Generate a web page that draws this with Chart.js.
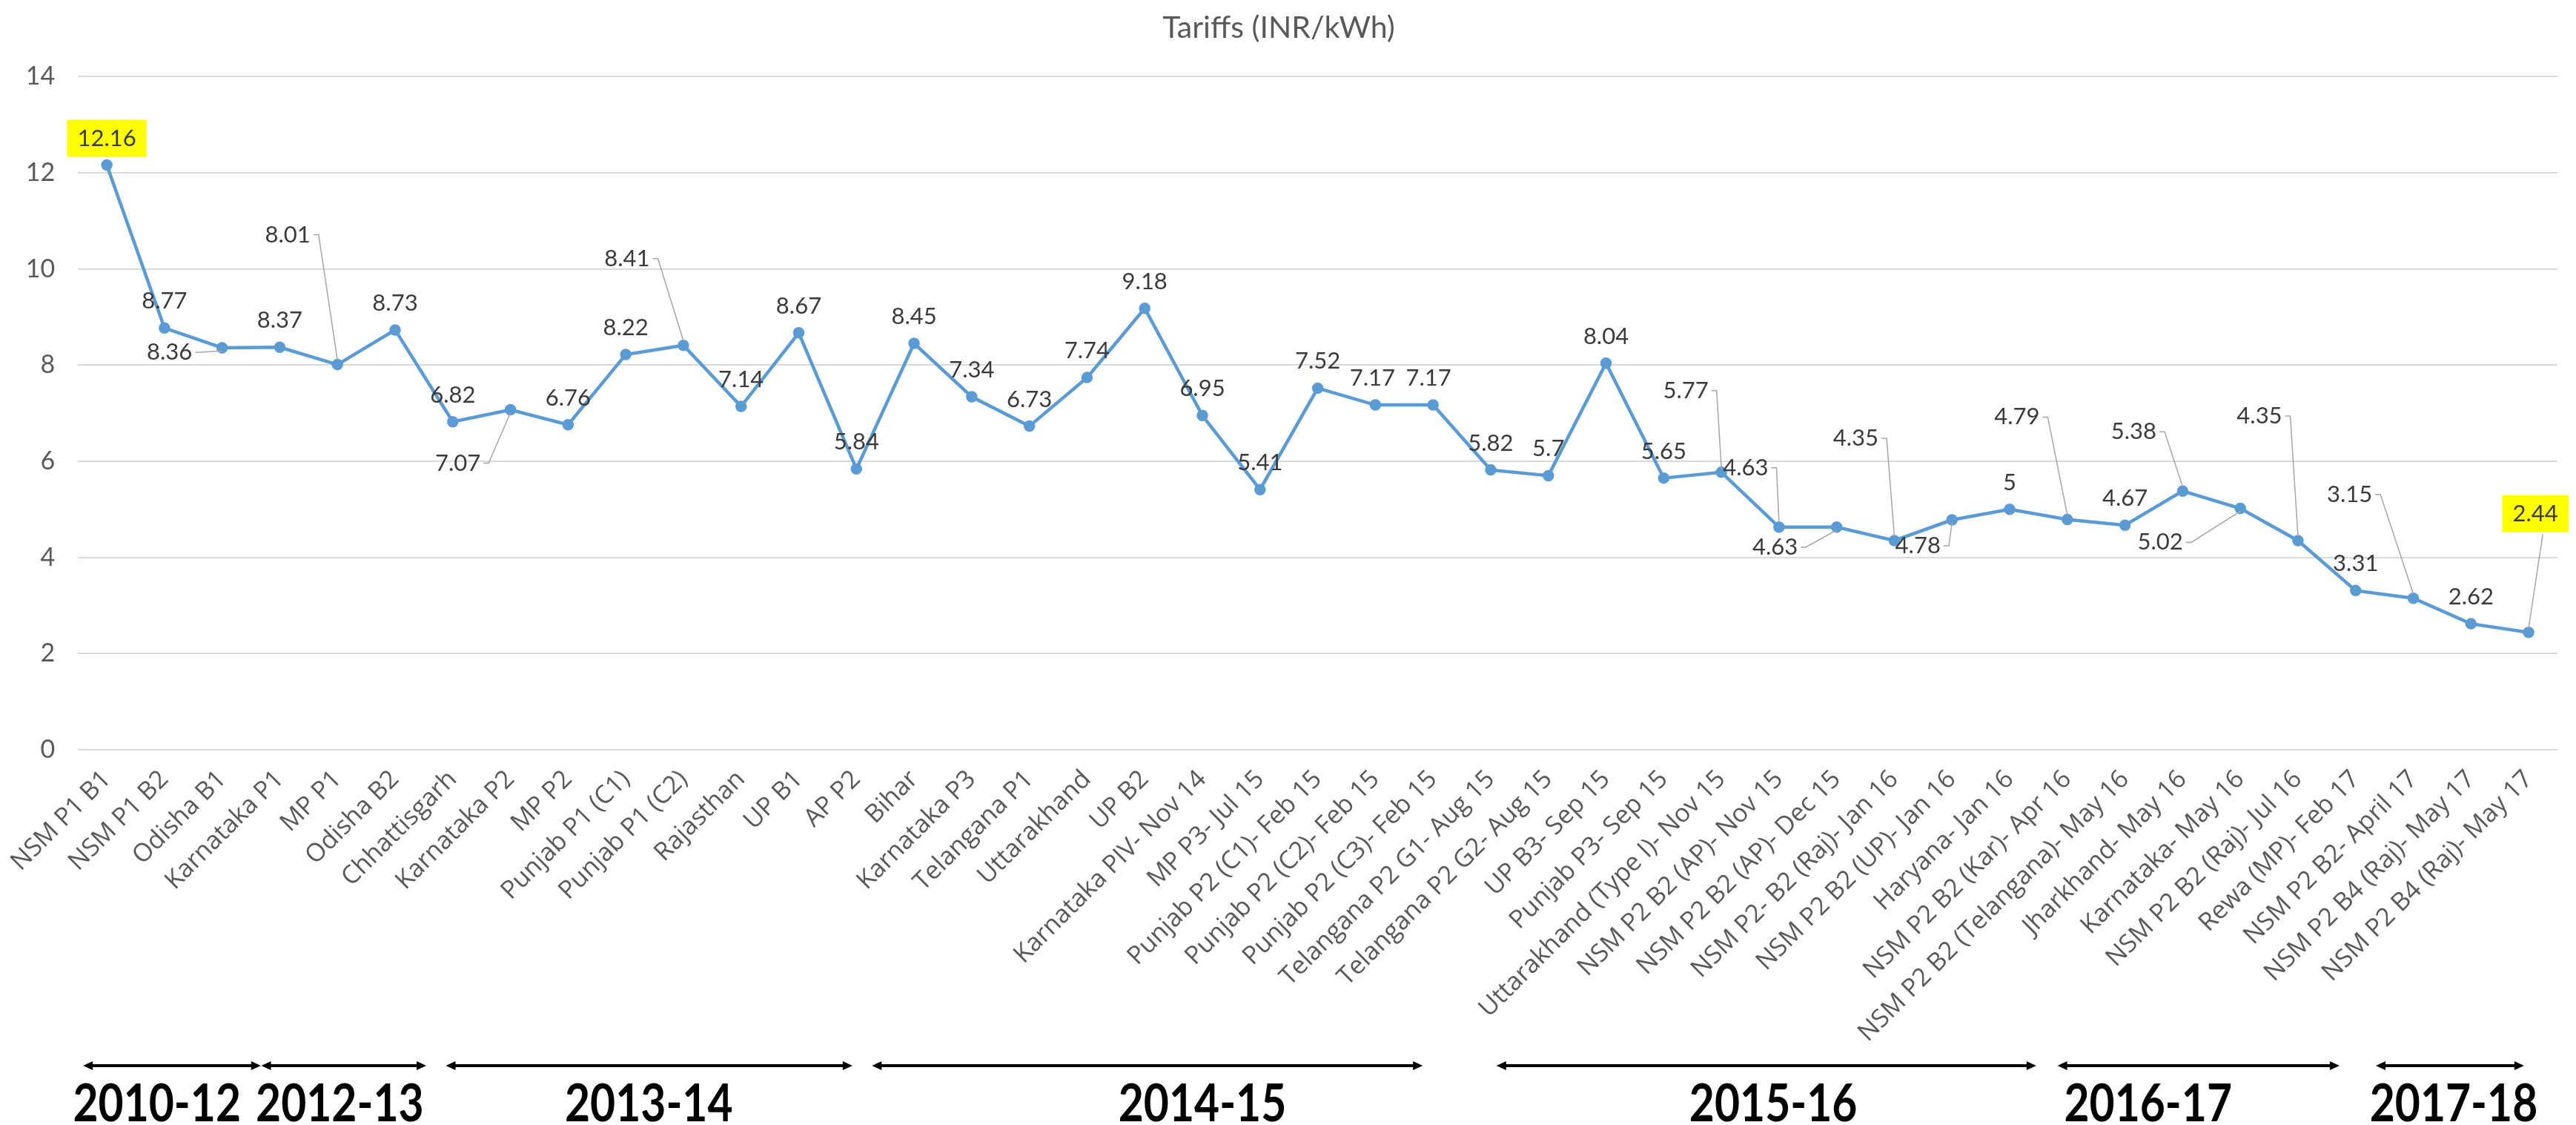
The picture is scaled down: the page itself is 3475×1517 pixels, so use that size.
<!DOCTYPE html>
<html>
<head>
<meta charset="utf-8">
<script src="https://cdn.jsdelivr.net/npm/chart.js@4.4.1/dist/chart.umd.min.js"></script>
<style>
  html, body { margin: 0; padding: 0; background: #fff; }
  #wrap { width: 3475px; height: 1517px; }
</style>
</head>
<body>
<div id="wrap"><canvas id="tariffChart" width="3475" height="1517"></canvas></div>
<script>
// --- DADOS ---
const categories = [
    'NSM P1 B1', 'NSM P1 B2', 'Odisha B1', 'Karnataka P1', 'MP P1', 'Odisha B2',
    'Chhattisgarh', 'Karnataka P2', 'MP P2', 'Punjab P1 (C1)', 'Punjab P1 (C2)',
    'Rajasthan', 'UP B1', 'AP P2', 'Bihar', 'Karnataka P3', 'Telangana P1',
    'Uttarakhand', 'UP B2', 'Karnataka PIV- Nov 14', 'MP P3- Jul 15',
    'Punjab P2 (C1)- Feb 15', 'Punjab P2 (C2)- Feb 15', 'Punjab P2 (C3)- Feb 15',
    'Telangana P2 G1- Aug 15', 'Telangana P2 G2- Aug 15', 'UP B3- Sep 15',
    'Punjab P3- Sep 15', 'Uttarakhand (Type I)- Nov 15', 'NSM P2 B2 (AP)- Nov 15',
    'NSM P2 B2 (AP)- Dec 15', 'NSM P2- B2 (Raj)- Jan 16', 'NSM P2 B2 (UP)- Jan 16',
    'Haryana- Jan 16', 'NSM P2 B2 (Kar)- Apr 16', 'NSM P2 B2 (Telangana)- May 16',
    'Jharkhand- May 16', 'Karnataka- May 16', 'NSM P2 B2 (Raj)- Jul 16',
    'Rewa (MP)- Feb 17', 'NSM P2 B2- April 17', 'NSM P2 B4 (Raj)- May 17',
    'NSM P2 B4 (Raj)- May 17'
];

const tariffs = [
    12.16, 8.77, 8.36, 8.37, 8.01, 8.73, 6.82, 7.07, 6.76, 8.22, 8.41,
    7.14, 8.67, 5.84, 8.45, 7.34, 6.73, 7.74, 9.18, 6.95, 5.41,
    7.52, 7.17, 7.17, 5.82, 5.7, 8.04, 5.65, 5.77, 4.63, 4.63,
    4.35, 4.78, 5, 4.79, 4.67, 5.38, 5.02, 4.35, 3.31, 3.15, 2.62, 2.44
];

const yTicks = [0, 2, 4, 6, 8, 10, 12, 14];

// Anos (faixas sob o eixo), em unidades de categoria
const periods   = ['2010-12', '2012-13', '2013-14', '2014-15', '2015-16', '2016-17', '2017-18'];
const periodFrom = [-0.41, 2.68, 5.88, 13.27, 24.1, 33.83, 39.35];
const periodTo   = [2.67, 5.54, 12.93, 22.82, 33.46, 38.72, 41.92];
const periodText = [0.87, 4.04, 9.4, 19.0, 28.9, 35.4, 40.7];

// --- LAYOUT DOS RÓTULOS ---
// deslocamento (px) do centro do rótulo em relação ao ponto; leader = linha guia
const labelShift = {
    2:  { dx: -71, dy: 6,    leader: true },
    4:  { dx: -67, dy: -175, leader: true },
    7:  { dx: -71, dy: 72,   leader: true },
    10: { dx: -76, dy: -117, leader: true },
    22: { dx: -4,  dy: -36 },
    23: { dx: -6,  dy: -36 },
    28: { dx: -48, dy: -110, leader: true },
    29: { dx: -45, dy: -80,  leader: true },
    30: { dx: -83, dy: 27,   leader: true },
    31: { dx: -52, dy: -138, leader: true },
    32: { dx: -46, dy: 35,   leader: true },
    34: { dx: -68, dy: -138, leader: true },
    36: { dx: -66, dy: -80,  leader: true },
    37: { dx: -108, dy: 46,  leader: true },
    38: { dx: -52, dy: -168, leader: true },
    40: { dx: -86, dy: -140, leader: true },
    42: { dx: 9,   dy: -160, leader: true }
};
const highlighted = [0, 42];

const BLUE = '#5B9BD5';

// Rótulos de valor (estilo Excel)
const valueLabels = {
    id: 'valueLabels',
    afterDatasetsDraw(chart) {
        const ctx = chart.ctx;
        const meta = chart.getDatasetMeta(0);
        ctx.save();
        ctx.font = '31px Lato';
        ctx.textAlign = 'center';
        ctx.textBaseline = 'middle';
        meta.data.forEach((pt, i) => {
            const s = labelShift[i] || { dx: 0, dy: -36 };
            const txt = String(tariffs[i]);
            const cx = pt.x + s.dx;
            const cy = pt.y + s.dy;
            const w = ctx.measureText(txt).width;

            if (s.leader) {
                ctx.strokeStyle = '#A6A6A6';
                ctx.lineWidth = 1.5;
                ctx.beginPath();
                if (Math.abs(s.dx) < 20) {
                    // linha a partir da base do rótulo
                    const by = cy + 28;
                    ctx.moveTo(cx + 10, by);
                    ctx.lineTo(pt.x, pt.y - 6);
                } else {
                    const sx = cx + w / 2 + 4;
                    ctx.moveTo(sx, cy);
                    ctx.lineTo(sx + 7, cy);
                    ctx.lineTo(pt.x, pt.y + (s.dy < 0 ? -6 : 4));
                }
                ctx.stroke();
            }

            if (highlighted.includes(i)) {
                ctx.fillStyle = '#FFFF00';
                ctx.fillRect(cx - w / 2 - 14, cy - 25, w + 28, 50);
            }
            ctx.fillStyle = '#3A3A3A';
            ctx.fillText(txt, cx, cy);
        });
        ctx.restore();
    }
};

// Setas e anos abaixo do eixo
const periodBands = {
    id: 'periodBands',
    afterDraw(chart) {
        const ctx = chart.ctx;
        const x = chart.scales.x;
        const x0 = x.getPixelForValue(0);
        const step = x.getPixelForValue(1) - x0;
        const pos = (v) => x0 + v * step;
        const ay = 1437;

        ctx.save();
        ctx.strokeStyle = '#000';
        ctx.fillStyle = '#000';
        ctx.lineWidth = 4;
        periods.forEach((p, i) => {
            const a = pos(periodFrom[i]);
            const b = pos(periodTo[i]);
            ctx.beginPath();
            ctx.moveTo(a + 8, ay);
            ctx.lineTo(b - 8, ay);
            ctx.stroke();
            // pontas
            ctx.beginPath();
            ctx.moveTo(a, ay);
            ctx.lineTo(a + 13, ay - 6);
            ctx.lineTo(a + 13, ay + 6);
            ctx.closePath();
            ctx.fill();
            ctx.beginPath();
            ctx.moveTo(b, ay);
            ctx.lineTo(b - 13, ay - 6);
            ctx.lineTo(b - 13, ay + 6);
            ctx.closePath();
            ctx.fill();

            // texto do ano (levemente condensado)
            ctx.save();
            ctx.translate(pos(periodText[i]), 1512);
            ctx.scale(0.84, 1);
            ctx.font = 'bold 70px Lato';
            ctx.textAlign = 'center';
            ctx.textBaseline = 'alphabetic';
            ctx.fillText(p, 0, 0);
            ctx.restore();
        });
        ctx.restore();
    }
};

new Chart(document.getElementById('tariffChart'), {
    type: 'line',
    data: {
        labels: categories,
        datasets: [{
            data: tariffs,
            borderColor: BLUE,
            backgroundColor: BLUE,
            borderWidth: 4.5,
            pointRadius: 5.5,
            pointBackgroundColor: BLUE,
            pointBorderColor: BLUE,
            tension: 0
        }]
    },
    options: {
        responsive: false,
        animation: false,
        layout: { padding: { left: 0, right: 25, top: 0, bottom: 0 } },
        plugins: {
            legend: { display: false },
            tooltip: { enabled: false },
            title: {
                display: true,
                text: 'Tariffs (INR/kWh)',
                color: '#595959',
                font: { family: 'Lato', size: 41, weight: 'normal', lineHeight: 1.2 },
                padding: { top: 13, bottom: 41 }
            }
        },
        scales: {
            x: {
                offset: true,
                grid: { display: false, drawTicks: false },
                border: { display: false },
                ticks: {
                    autoSkip: false,
                    minRotation: 45,
                    maxRotation: 45,
                    padding: 20,
                    color: '#595959',
                    font: { family: 'Open Sans', size: 34 }
                },
                afterFit: (scale) => { scale.height = 506; }
            },
            y: {
                min: 0,
                max: 14,
                afterBuildTicks: (scale) => { scale.ticks = yTicks.map(v => ({ value: v })); },
                grid: { color: '#D9D9D9', lineWidth: 2, drawTicks: false },
                border: { display: false },
                ticks: {
                    padding: 31,
                    color: '#595959',
                    font: { family: 'Lato', size: 34 }
                },
                afterFit: (scale) => { scale.width = 101; }
            }
        }
    },
    plugins: [valueLabels, periodBands]
});
</script>
</body>
</html>
